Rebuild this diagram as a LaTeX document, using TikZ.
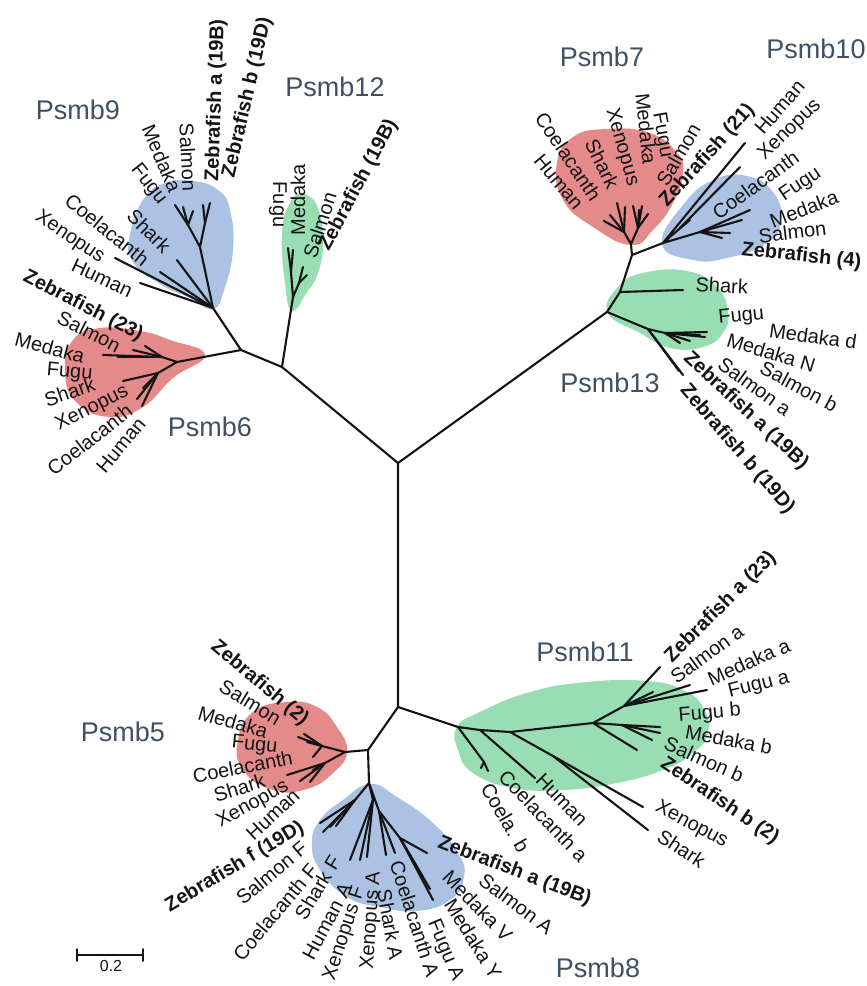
\documentclass[tikz,border=0pt]{standalone}
\usepackage{fontspec}
\setmainfont{Liberation Sans}
\usepackage{tikz}
\usetikzlibrary{positioning}
\definecolor{treeInk}{HTML}{141414}
\definecolor{treeClade}{HTML}{3F4F64}
\definecolor{treeRedFill}{HTML}{E58A8A}
\definecolor{treeBlueFill}{HTML}{ABC2E2}
\definecolor{treeGreenFill}{HTML}{99DEB3}
\tikzset{
  % Unrooted Psmb tree, drawn in pixel units with y pointing down.
  tree/base/.style={x=1pt,y=-1pt,line cap=round,line join=round},
  tree/branch/.style={draw=treeInk,line width=2.1pt},
  tree/leaf/.style={font=\rmfamily\fontsize{20pt}{22pt}\selectfont,
    text=treeInk,inner sep=.5pt},
  tree/zebra/.style={tree/leaf,
    font=\rmfamily\bfseries\fontsize{20pt}{22pt}\selectfont},
  tree/clade/.style={font=\rmfamily\fontsize{27pt}{29pt}\selectfont,
    text=treeClade,inner sep=0pt},
  tree/red hull/.style={fill=treeRedFill},
  tree/blue hull/.style={fill=treeBlueFill},
  tree/green hull/.style={fill=treeGreenFill},
  tree/scale/.style={draw=treeInk,line width=1.6pt}
}

\begin{document}
\begin{tikzpicture}[
  tree/base,
  leaf/.style={tree/leaf},
  zebra/.style={tree/zebra},
  clade/.style={tree/clade},
  hull/.style={smooth cycle,tension=.8}
]
  \path[use as bounding box] (0,0) rectangle (867,986);

  % Shaded clades go below the branches.
  \path[tree/blue hull] plot[hull] coordinates {(213,309) (224,290) (233,250)
    (230,210) (218,190) (193,181) (165,183) (143,200) (130,235) (133,262)
    (160,284) (190,298)};
  \path[tree/green hull] plot[hull] coordinates {(292,311) (285,283) (282,233)
    (290,203) (303,194) (318,208) (323,243) (318,273) (307,292)};
  \path[tree/red hull] plot[hull] coordinates {(205,355) (170,340) (140,331)
    (100,328) (73,340) (65,373) (77,403) (110,417) (143,407) (173,378)};
  \path[tree/red hull] plot[hull] coordinates {(631,245) (653,230) (673,203)
    (683,173) (677,153) (650,133) (607,129) (573,137) (557,163) (563,200)
    (593,227)};
  \path[tree/blue hull] plot[hull] coordinates {(662,244) (683,205) (713,180)
    (747,176) (773,192) (781,220) (767,243) (727,258) (693,260)};
  \path[tree/green hull] plot[hull] coordinates {(608,313) (618,287) (643,273)
    (687,271) (717,287) (728,312) (723,333) (703,347) (670,348) (640,333)};
  \path[tree/red hull] plot[hull] coordinates {(347,752) (337,727) (317,707)
    (287,702) (253,712) (238,740) (243,770) (273,790) (307,789) (333,773)};
  \path[tree/blue hull] plot[hull] coordinates {(370,784) (397,797) (433,823)
    (458,853) (464,877) (450,900) (417,911) (380,907) (347,897) (320,870)
    (312,843) (320,820) (343,800)};
  \path[tree/green hull] plot[hull] coordinates {(457,727) (480,712) (530,692)
    (587,682) (647,681) (683,690) (703,707) (708,733) (693,753) (663,770)
    (617,783) (563,790) (513,788) (473,773) (458,750)};

  % Backbone nodes and clade roots.
  \coordinate (root) at (398,463);
  \coordinate (nA) at (282,367);
  \coordinate (nB) at (241,350);
  \coordinate (nD) at (398,707);
  \coordinate (nE) at (368,750);
  \coordinate (nF) at (607,312);
  \coordinate (nG) at (620,292);
  \coordinate (nH) at (632,255);
  \coordinate (p9) at (213,308);
  \coordinate (p12) at (293,297);
  \coordinate (p6) at (177,362);
  \coordinate (p7) at (631,244);
  \coordinate (p10) at (663,243);
  \coordinate (p13) at (648,329);
  \coordinate (p5) at (345,752);
  \coordinate (p8) at (369,783);
  \coordinate (p11) at (458,727);
  \draw[tree/branch] (nB) -- (nA) -- (root) -- (nD) -- (nE)
    (root) -- (nF) -- (nG) -- (nH)
    (nA) -- (p12) (nB) -- (p9) (nB) -- (p6) (nH) -- (p7) (nH) -- (p10)
    (nF) -- (p13) (nE) -- (p5) (nE) -- (p8) (nD) -- (p11);

  % Psmb9
  \coordinate (p9u) at (200,247);
  \coordinate (p9a) at (188,225);
  \coordinate (p9b) at (205,223);
  \draw[tree/branch] (p9) -- (p9u) -- (p9a) (p9u) -- (p9b);
  \foreach \tx/\ty in {140/283,115/258,160/272,177/260}
    \draw[tree/branch] (p9) -- (\tx,\ty);
  \foreach \tx/\ty in {175/205,183/207,193/211}
    \draw[tree/branch] (p9a) -- (\tx,\ty);
  \foreach \tx/\ty in {203/205,210/203}
    \draw[tree/branch] (p9b) -- (\tx,\ty);

  % Psmb12
  \coordinate (p12l) at (291,272);
  \coordinate (p12r) at (299,283);
  \draw[tree/branch] (p12) -- (p12l) (p12) -- (p12r);
  \foreach \tx/\ty in {288/248,293/250}
    \draw[tree/branch] (p12l) -- (\tx,\ty);
  \foreach \tx/\ty in {307/275,303/267}
    \draw[tree/branch] (p12r) -- (\tx,\ty);

  % Psmb6
  \coordinate (p6a) at (162,357);
  \coordinate (p6b) at (158,373);
  \draw[tree/branch] (p6) -- (p6a) (p6) -- (p6b);
  \foreach \tx/\ty in {103/355,118/357,133/350,145/346}
    \draw[tree/branch] (p6a) -- (\tx,\ty);
  \foreach \tx/\ty in {123/381,143/388,137/399,142/406}
    \draw[tree/branch] (p6b) -- (\tx,\ty);

  % Psmb7
  \coordinate (p7a) at (624,232);
  \coordinate (p7b) at (638,228);
  \draw[tree/branch] (p7) -- (p7a) (p7) -- (p7b);
  \foreach \tx/\ty in {604/221,610/215,617/203,625/207}
    \draw[tree/branch] (p7a) -- (\tx,\ty);
  \foreach \tx/\ty in {633/206,639/210,642/206,648/214}
    \draw[tree/branch] (p7b) -- (\tx,\ty);

  % Psmb10
  \coordinate (p10a) at (678,230);
  \coordinate (p10b) at (700,232);
  \draw[tree/branch] (p10) -- (745,143) (p10) -- (p10a) (p10) -- (p10b);
  \foreach \tx/\ty in {740/167,690/220}
    \draw[tree/branch] (p10a) -- (\tx,\ty);
  \foreach \tx/\ty in {750/210,742/220,730/233,722/238}
    \draw[tree/branch] (p10b) -- (\tx,\ty);

  % Psmb13
  \coordinate (p13a) at (665,333);
  \draw[tree/branch] (nG) -- (683,290) (p13) -- (p13a);
  \foreach \tx/\ty in {683/375,679/371}
    \draw[tree/branch] (p13) -- (\tx,\ty);
  \foreach \tx/\ty in {707/332,705/337,700/335,690/341,680/343}
    \draw[tree/branch] (p13a) -- (\tx,\ty);

  % Psmb5
  \coordinate (p5a) at (322,746);
  \coordinate (p5b) at (325,763);
  \draw[tree/branch] (p5) -- (p5a) (p5) -- (p5b);
  \foreach \tx/\ty in {298/737,304/734,307/742,313/757}
    \draw[tree/branch] (p5a) -- (\tx,\ty);
  \foreach \tx/\ty in {287/775,310/782,300/781,313/770}
    \draw[tree/branch] (p5b) -- (\tx,\ty);

  % Psmb8
  \coordinate (p8a) at (355,800);
  \coordinate (p8b) at (373,800);
  \coordinate (p8c) at (379,811);
  \coordinate (p8d) at (400,838);
  \draw[tree/branch] (p8) -- (p8a) (p8) -- (p8b) (p8) -- (p8c) -- (p8d);
  \foreach \tx/\ty in {320/823,323/832,330/827,336/826}
    \draw[tree/branch] (p8a) -- (\tx,\ty);
  \foreach \tx/\ty in {350/860,360/860,367/857}
    \draw[tree/branch] (p8b) -- (\tx,\ty);
  \foreach \tx/\ty in {386/855,395/853}
    \draw[tree/branch] (p8c) -- (\tx,\ty);
  \foreach \tx/\ty in {427/853,423/877,430/889,433/900}
    \draw[tree/branch] (p8d) -- (\tx,\ty);

  % Psmb11
  \coordinate (p11cb) at (484,762);
  \coordinate (p11a) at (480,730);
  \coordinate (p11b) at (510,732);
  \coordinate (p11c) at (553,756);
  \coordinate (p11d) at (593,723);
  \coordinate (p11e) at (624,706);
  \coordinate (p11f) at (622,725);
  \draw[tree/branch] (p11) -- (p11a) -- (p11b) -- (p11d)
    (p11) -- (p11cb) (p11a) -- (535,778) (p11b) -- (p11c)
    (p11d) -- (p11e) -- (660,667) (p11d) -- (p11f) (p11d) -- (637,750);
  \foreach \tx/\ty in {488/771,481/768}
    \draw[tree/branch] (p11cb) -- (\tx,\ty);
  \foreach \tx/\ty in {643/807,648/830}
    \draw[tree/branch] (p11c) -- (\tx,\ty);
  \foreach \tx/\ty in {653/692,690/685,707/690}
    \draw[tree/branch] (p11e) -- (\tx,\ty);
  \foreach \tx/\ty in {660/727,660/733,652/740}
    \draw[tree/branch] (p11f) -- (\tx,\ty);

  % Leaf labels: name / anchor / x / y / angle / style / text.
  \foreach \nm/\an/\xx/\yy/\rr/\st/\tx in {
    p9za/west/213/182/88/zebra/{Zebrafish a (19B)},
    p9zb/west/229/178/77/zebra/{Zebrafish b (19D)},
    p9sal/east/190/192/-87/leaf/{Salmon},
    p9med/east/176/192/-67/leaf/{Medaka},
    p9fug/east/163/203/-52/leaf/{Fugu},
    p9sha/east/168/250/-45/leaf/{Shark},
    p9coe/east/147/262/-39/leaf/{Coelacanth},
    p9xen/east/103/260/-34/leaf/{Xenopus},
    p9hum/east/132/292/-25/leaf/{Human},
    p12fug/east/278/228/-90/leaf/{Fugu},
    p12med/west/298/236/90/leaf/{Medaka},
    p12sal/west/309/258/72/leaf/{Salmon},
    p12zeb/west/324/250/62/zebra/{Zebrafish (19B)},
    p6zeb/east/142/336/-27/zebra/{Zebrafish (23)},
    p6sal/east/120/347/-27/leaf/{Salmon},
    p6med/east/85/357/-15/leaf/{Medaka},
    p6fug/east/93/375/-5/leaf/{Fugu},
    p6sha/east/95/383/19/leaf/{Shark},
    p6xen/east/128/390/27/leaf/{Xenopus},
    p6coe/east/130/408/38/leaf/{Coelacanth},
    p6hum/east/142/420/50/leaf/{Human},
    p7hum/east/580/207/-50/leaf/{Human},
    p7coe/east/597/199/-56/leaf/{Coelacanth},
    p7sha/east/614/188/-64/leaf/{Shark},
    p7xen/east/633/186/-74/leaf/{Xenopus},
    p7med/east/650/165/-84/leaf/{Medaka},
    p7fug/east/666/158/-80/leaf/{Fugu},
    p7sal/west/661/185/60/leaf/{Salmon},
    p7zeb/west/663/205/48/zebra/{Zebrafish (21)},
    p10hum/west/758/132/49/leaf/{Human},
    p10xen/west/761/158/44/leaf/{Xenopus},
    p10coe/west/714/215/36/leaf/{Coelacanth},
    p10fug/west/781/198/34/leaf/{Fugu},
    p10med/west/770/222/21/leaf/{Medaka},
    p10sal/west/758/236/7/leaf/{Salmon},
    p10zeb/west/741/250/-6/zebra/{Zebrafish (4)},
    p13sha/west/695/284/-3/leaf/{Shark},
    p13fug/west/718/319/6/leaf/{Fugu},
    p13medd/west/769/330/-8/leaf/{Medaka d},
    p13medn/west/727/339/-17/leaf/{Medaka N},
    p13salb/west/761/366/-28/leaf/{Salmon b},
    p13sala/west/720/361/-36/leaf/{Salmon a},
    p13za/west/686/355/-43/zebra/{Zebrafish a (19B)},
    p13zb/west/683/387/-49/zebra/{Zebrafish b (19D)},
    p5zeb/east/306/722/-40/zebra/{Zebrafish (2)},
    p5sal/east/280/720/-31/leaf/{Salmon},
    p5med/east/268/732/-16/leaf/{Medaka},
    p5fug/east/278/748/-6/leaf/{Fugu},
    p5coe/east/293/757/11/leaf/{Coelacanth},
    p5sha/east/265/780/17/leaf/{Shark},
    p5xen/east/288/785/29/leaf/{Xenopus},
    p5hum/east/297/792/43/leaf/{Human},
    p8zf/east/303/826/31/zebra/{Zebrafish f (19D)},
    p8salf/east/305/845/40/leaf/{Salmon F},
    p8coef/east/314/866/50/leaf/{Coelacanth F},
    p8shaf/east/336/857/59/leaf/{Shark F},
    p8huma/east/347/884/62/leaf/{Human A},
    p8xenf/east/360/887/72/leaf/{Xenopus F},
    p8xena/east/375/871/86/leaf/{Xenopus A},
    p8shaa/west/384/889/-80/leaf/{Shark A},
    p8coea/west/396/861/-72/leaf/{Coelacanth A},
    p8fuga/west/432/920/-67/leaf/{Fugu A},
    p8medy/west/449/900/-58/leaf/{Medaka Y},
    p8medv/west/446/873/-46/leaf/{Medaka V},
    p8sala/west/481/877/-37/leaf/{Salmon A},
    p8za/west/438/842/-21/zebra/{Zebrafish a (19B)},
    p11za/west/668/660/45/zebra/{Zebrafish a (23)},
    p11sala/west/672/679/36/leaf/{Salmon a},
    p11meda/west/708/680/24/leaf/{Medaka a},
    p11fuga/west/728/693/14/leaf/{Fugu a},
    p11fugb/west/678/716/5/leaf/{Fugu b},
    p11medb/west/685/731/-11/leaf/{Medaka b},
    p11salb/west/665/742/-24/leaf/{Salmon b},
    p11zb/west/662/762/-34/zebra/{Zebrafish b (2)},
    p11xen/west/656/806/-28/leaf/{Xenopus},
    p11sha/west/659/834/-33/leaf/{Shark},
    p11hum/west/539/776/-46/leaf/{Human},
    p11coa/west/502/773/-46/leaf/{Coelacanth a},
    p11cob/west/486/784/-60/leaf/{Coela. b}}
    \node[\st,anchor=\an,rotate=\rr] (\nm) at (\xx,\yy) {\tx};

  % Clade names.
  \foreach \nm/\xx/\yy/\tx in {c9/78/110/Psmb9,c12/335/87/Psmb12,
    c7/602/57/Psmb7,c10/816/49/Psmb10,c13/610/383/Psmb13,c6/210/427/Psmb6,
    c5/123/732/Psmb5,c11/585/652/Psmb11,c8/598/968/Psmb8}
    \node[clade] (\nm) at (\xx,\yy) {\tx};

  % Scale bar.
  \coordinate (barL) at (77,955);
  \coordinate (barR) at (143,955);
  \draw[tree/scale] (barL) -- (barR)
    ([yshift=-6pt]barL) -- ([yshift=6pt]barL)
    ([yshift=-6pt]barR) -- ([yshift=6pt]barR);
  \node[font=\rmfamily\fontsize{16pt}{18pt}\selectfont,text=treeInk,
    below=2pt of barL,xshift=34pt] (barLabel) {0.2};
\end{tikzpicture}
\end{document}
